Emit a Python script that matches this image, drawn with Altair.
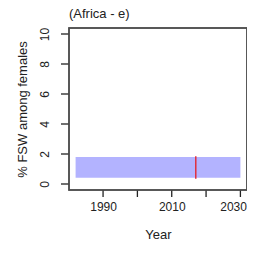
import altair as alt
import pandas as pd

band_start = [1982]
band_end = [2030]
band_low = [0.42]
band_high = [1.8]

point_year = [2017]
point_low = [0.35]
point_high = [1.85]

x_ticks = [1990, 2000, 2010, 2020, 2030]
y_ticks = [0, 2, 4, 6, 8, 10]

band_df = pd.DataFrame({"x": band_start, "x2": band_end, "y": band_low, "y2": band_high})
pt_df = pd.DataFrame({"x": point_year, "y": point_low, "y2": point_high})
xt_df = pd.DataFrame({"x": x_ticks})
yt_df = pd.DataFrame({"y": y_ticks})
frame_df = pd.DataFrame({"k": [0]})

xs = alt.Scale(domain=[1980.08, 2031.92], nice=False, zero=False)
ys = alt.Scale(domain=[-0.4, 10.4], nice=False, zero=False)

xaxis = alt.Axis(values=x_ticks, format="d", ticks=False, domain=False,
                 labelPadding=11, labelOverlap=False, labelFlush=False,
                 labelAlign={"condition": {"test": "datum.value == 2030", "value": "right"},
                             "value": "center"},
                 labelOffset={"condition": {"test": "datum.value == 2030", "value": 6},
                              "value": 0},
                 labelExpr="datum.value % 20 == 10 ? datum.label : ''",
                 title="Year", titlePadding=16)
yaxis = alt.Axis(values=y_ticks, ticks=False, domain=False,
                 labelAngle=270, labelAlign="center",
                 labelBaseline="bottom", labelPadding=18,
                 labelOverlap=False, labelFlush=False,
                 title="% FSW among females", titlePadding=9)

band = alt.Chart(band_df).mark_rect(color="#b3b3ff").encode(
    x=alt.X("x:Q", scale=xs, axis=xaxis),
    x2="x2:Q",
    y=alt.Y("y:Q", scale=ys, axis=yaxis),
    y2="y2:Q",
)

line = alt.Chart(pt_df).mark_rule(color="#e0303f", strokeWidth=1.5).encode(
    x=alt.X("x:Q", scale=xs, axis=xaxis),
    y=alt.Y("y:Q", scale=ys, axis=yaxis),
    y2="y2:Q",
)

xticks = alt.Chart(xt_df).mark_rule(color="#222222", strokeWidth=1.3, y2Offset=7).encode(
    x=alt.X("x:Q", scale=xs, axis=xaxis),
    y=alt.value("height"),
    y2=alt.value("height"),
)

yticks = alt.Chart(yt_df).mark_rule(color="#222222", strokeWidth=1.3, x2Offset=-8).encode(
    y=alt.Y("y:Q", scale=ys, axis=yaxis),
    x=alt.value(0),
    x2=alt.value(0),
)

frame = alt.Chart(frame_df).mark_rect(
    fillOpacity=0, stroke="#4d4d4d", strokeWidth=1.5, strokeOpacity=1
).encode(
    x=alt.value(0), x2=alt.value("width"),
    y=alt.value(0), y2=alt.value("height"),
)

chart = alt.layer(band, line, xticks, yticks, frame).properties(
    width=178, height=162,
    background="white",
    title=alt.TitleParams("(Africa - e)", anchor="start", frame="group",
                          font="Liberation Sans",
                          fontSize=13, fontWeight="normal", color="#222222", offset=6),
    autosize=alt.AutoSizeParams(type="none"),
    padding={"left": 61, "top": 20, "right": 0, "bottom": 55},
).configure_view(
    stroke="#4d4d4d", strokeWidth=1.5
).configure_axis(
    grid=False, domain=False, ticks=False,
    labelColor="#222222", labelFont="Liberation Sans", labelFontSize=12,
    labelOverlap=False, labelFlush=False,
    titleFont="Liberation Sans", titleFontSize=13, titleFontWeight="normal",
    titleColor="#222222",
)

chart.save("out.html", embed_options={"renderer": "svg", "actions": False})
